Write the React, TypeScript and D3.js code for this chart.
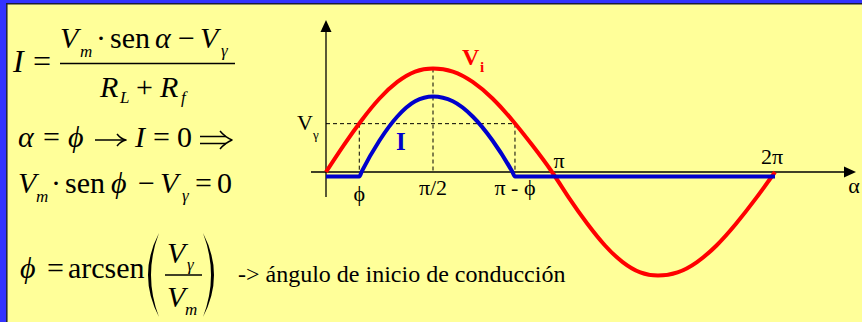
import React from "react";
import * as d3 from "d3";

const W = 862;
const H = 322;

// Input voltage v_i = Vm·sen(α), sampled every 15°, normalized to Vm
const angleDeg = [0, 15, 30, 45, 60, 75, 90, 105, 120, 135, 150, 165, 180, 195, 210, 225, 240, 255, 270, 285, 300, 315, 330, 345, 360];
const viValues = [0, 0.26, 0.5, 0.71, 0.87, 0.97, 1, 0.97, 0.87, 0.71, 0.5, 0.26, 0, -0.26, -0.5, -0.71, -0.87, -0.97, -1, -0.97, -0.87, -0.71, -0.5, -0.26, 0];

// Diode current, normalized to its peak: zero until the diode starts conducting at φ
const iAngleDeg = [0, 28, 30, 45, 60, 75, 90, 105, 120, 135, 150, 152, 180, 270, 360];
const iValues = [0, 0, 0.06, 0.45, 0.75, 0.94, 1, 0.94, 0.75, 0.45, 0.06, 0, 0, 0, 0];

// Threshold voltage (fraction of Vm) and conduction angle φ in degrees
const vGamma = 0.467;
const phiDeg = 28;

// Angle tick labels
const tickLabels = ["ϕ", "π/2", "π - ϕ"];
const tickAngles = [phiDeg, 90, 180 - phiDeg];

const SERIF = "Liberation Serif";
const RED = "#FF0000";
const BLUE = "#0000CC";

export default function App() {
  const x = d3.scaleLinear().domain([0, 90, 180, 270, 360]).range([326, 433, 552, 658, 775]);
  const yV = d3.scaleLinear().domain([-1, 1]).range([275.5, 68.5]);
  const yI = d3.scaleLinear().domain([0, 1]).range([176.5, 96.5]);

  const viLine = d3
    .line<number>()
    .x((_, i) => x(angleDeg[i]))
    .y((d) => yV(d))
    .curve(d3.curveNatural);

  const iLine = d3
    .line<number>()
    .x((_, i) => x(iAngleDeg[i]))
    .y((d) => yI(d))
    .curve(d3.curveMonotoneX);

  const x0 = x(0);
  const y0 = yV(0);
  const yG = yV(vGamma);
  const xPhi = x(phiDeg);
  const xPiPhi = x(180 - phiDeg);
  const x90 = x(90);

  const it = { fontFamily: SERIF, fontStyle: "italic" as const };
  const up = { fontFamily: SERIF };

  return (
    <svg
      width={W}
      height={H}
      viewBox={`0 0 ${W} ${H}`}
      style={{ position: "absolute", left: 0, top: 0, display: "block" }}
    >
      <rect x={0} y={0} width={W} height={H} fill="#FFFF99" />
      {/* frame */}
      <rect x={0} y={0} width={W} height={3} fill="#3333FF" />
      <line x1={0} x2={W} y1={3.8} y2={3.8} stroke="#1c1c3a" strokeWidth={1.5} />
      <rect x={0} y={0} width={6} height={H} fill="#3333FF" />
      <line x1={6.8} x2={6.8} y1={3} y2={H} stroke="#1c1c3a" strokeWidth={1.5} />

      {/* ---------- equations ---------- */}
      <g fill="#000">
        {/* I = (Vm·sen α − Vγ)/(RL + Rf) */}
        <text x={13} y={72} fontSize={32} {...it}>I</text>
        <text x={33} y={72} fontSize={32} {...up}>=</text>
        <line x1={60} x2={235} y1={63.5} y2={63.5} stroke="#000" strokeWidth={1.5} />
        <text x={60} y={48} fontSize={30} {...it}>V</text>
        <text x={80} y={57} fontSize={17} {...it}>m</text>
        <text x={96} y={48} fontSize={30} {...up}>·</text>
        <text x={110} y={48} fontSize={30} {...up}>sen</text>
        <text x={155} y={48} fontSize={30} {...it}>α</text>
        <text x={178} y={48} fontSize={30} {...up}>−</text>
        <text x={200} y={48} fontSize={30} {...it}>V</text>
        <text x={221} y={56} fontSize={17} {...it}>γ</text>
        <text x={100} y={97} fontSize={30} {...it}>R</text>
        <text x={120} y={103} fontSize={17} {...it}>L</text>
        <text x={136} y={97} fontSize={30} {...up}>+</text>
        <text x={160} y={97} fontSize={30} {...it}>R</text>
        <text x={181} y={103} fontSize={17} {...it}>f</text>

        {/* α = ϕ → I = 0 ⇒ */}
        <text x={18} y={147} fontSize={30} {...it}>α</text>
        <text x={43} y={147} fontSize={30} {...up}>=</text>
        <text x={68} y={147} fontSize={30} {...it}>ϕ</text>
        <g stroke="#000" strokeWidth={1.5} fill="none" strokeLinejoin="round">
          {/* right arrow */}
          <path d="M95,140 H125" />
          <path d="M117,134 Q121,139 126,140 Q121,141 117,146" />
          {/* implication arrow */}
          <path d="M200,136.5 H226 M200,143.5 H226" />
          <path d="M220,131 Q225,137 232,140 Q225,143 220,149" />
        </g>
        <text x={135} y={147} fontSize={30} {...it}>I</text>
        <text x={153} y={147} fontSize={30} {...up}>=</text>
        <text x={177} y={147} fontSize={30} {...up}>0</text>

        {/* Vm·sen ϕ − Vγ = 0 */}
        <text x={18} y={193} fontSize={30} {...it}>V</text>
        <text x={36} y={202} fontSize={17} {...it}>m</text>
        <text x={51} y={193} fontSize={30} {...up}>·</text>
        <text x={65} y={193} fontSize={30} {...up}>sen</text>
        <text x={111} y={193} fontSize={30} {...it}>ϕ</text>
        <text x={138} y={193} fontSize={30} {...up}>−</text>
        <text x={160} y={193} fontSize={30} {...it}>V</text>
        <text x={182} y={201} fontSize={17} {...it}>γ</text>
        <text x={195} y={193} fontSize={30} {...up}>=</text>
        <text x={217} y={193} fontSize={30} {...up}>0</text>

        {/* ϕ = arcsen(Vγ / Vm) */}
        <text x={20} y={278} fontSize={30} {...it}>ϕ</text>
        <text x={47} y={278} fontSize={30} {...up}>=</text>
        <text x={68} y={278} fontSize={30} {...up}>arcsen</text>
        <path d="M159,233 Q137,275 159,317 Q143,275 159,233 Z" />
        <path d="M203,233 Q225,275 203,317 Q219,275 203,233 Z" />
        <text x={167} y={263} fontSize={30} {...it}>V</text>
        <text x={187} y={270} fontSize={17} {...it}>γ</text>
        <line x1={165} x2={202} y1={275} y2={275} stroke="#000" strokeWidth={1.5} />
        <text x={167} y={307} fontSize={30} {...it}>V</text>
        <text x={185} y={315} fontSize={17} {...it}>m</text>

        <text x={238} y={282} fontSize={24} {...up}>-&gt; ángulo de inicio de conducción</text>
      </g>

      {/* ---------- waveform chart ---------- */}
      {/* axes */}
      <g stroke="#000" strokeWidth={1.3}>
        <line x1={x0} x2={x0} y1={197} y2={30} />
        <line x1={311} x2={845} y1={y0} y2={y0} />
      </g>
      <path d={`M${x0},20 L${x0 - 5.5},32 L${x0 + 5.5},32 Z`} fill="#000" />
      <path d={`M856,${y0} L844,${y0 - 5.5} L844,${y0 + 5.5} Z`} fill="#000" />

      {/* guide lines */}
      <g stroke="#000" strokeWidth={1} strokeDasharray="4,3" fill="none">
        <line x1={x0} x2={xPiPhi} y1={yG} y2={yG} />
        <line x1={xPhi} x2={xPhi} y1={yG} y2={y0} />
        <line x1={x90} x2={x90} y1={yV(1)} y2={y0} />
        <line x1={xPiPhi} x2={xPiPhi} y1={yG} y2={y0} />
      </g>

      {/* curves */}
      <path d={viLine(viValues) ?? ""} fill="none" stroke={RED} strokeWidth={4} />
      <path d={iLine(iValues) ?? ""} fill="none" stroke={BLUE} strokeWidth={4} />

      {/* angle labels */}
      <g fontFamily={SERIF} fontSize={22} fill="#000" textAnchor="middle">
        {tickLabels.map((t, i) => (
          <text key={t} x={x(tickAngles[i])} y={i === 0 ? 201 : 195}>{t}</text>
        ))}
        <text x={x(180) + 7} y={168}>π</text>
        <text x={x(360) - 3} y={164}>2π</text>
        <text x={854} y={193}>α</text>
      </g>
      <text x={297} y={yG + 6} fontFamily={SERIF} fontSize={22} fill="#000">V</text>
      <text x={313} y={yG + 15} fontFamily={SERIF} fontSize={13} fill="#000">γ</text>

      {/* series labels */}
      <text x={396} y={150} fontFamily={SERIF} fontSize={25} fontWeight="bold" fill={BLUE}>I</text>
      <text x={462} y={65} fontFamily={SERIF} fontSize={24} fontWeight="bold" fill={RED}>V</text>
      <text x={480} y={72} fontFamily={SERIF} fontSize={15} fontWeight="bold" fill={RED}>i</text>
    </svg>
  );
}
